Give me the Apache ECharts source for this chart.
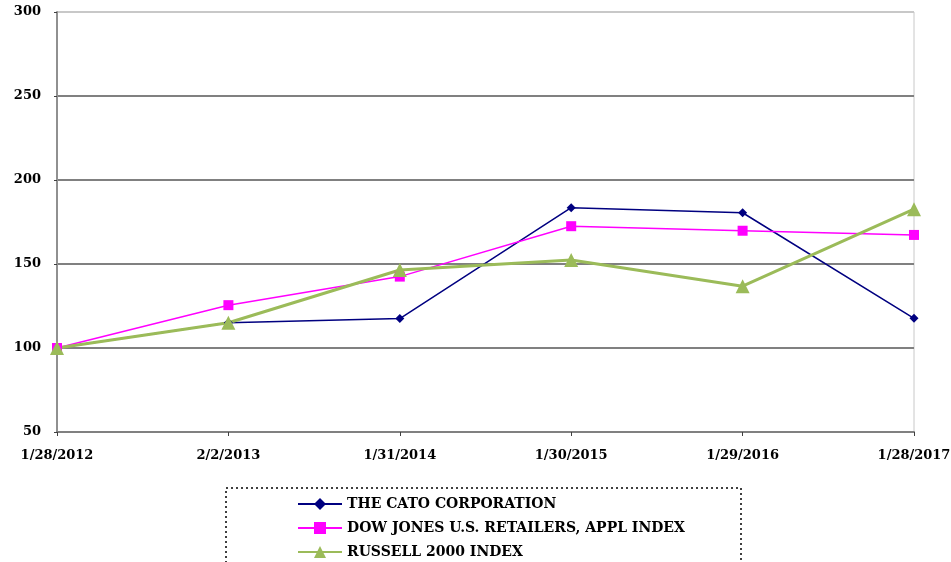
<!DOCTYPE html>
<html><head><meta charset="utf-8">
<script src="https://cdn.jsdelivr.net/npm/echarts@6/dist/echarts.min.js"></script>
<style>html,body{margin:0;padding:0;background:#fff}#c{width:951px;height:562px}</style>
</head><body><div id="c"></div>
<script>
const categories = ["1/28/2012","2/2/2013","1/31/2014","1/30/2015","1/29/2016","1/28/2017"];
const cato = [100, 115, 117.5, 183.5, 180.5, 117.7];
const dowJones = [100, 125.5, 142.5, 172.5, 169.8, 167.3];
const russell = [100, 115, 146.4, 152.4, 136.8, 182.6];
const seriesNames = ["THE CATO CORPORATION","DOW JONES U.S. RETAILERS, APPL INDEX","RUSSELL 2000 INDEX"];

const chart = echarts.init(document.getElementById('c'));
const font = {fontFamily:'DejaVu Serif', fontWeight:'bold', fontSize:13, color:'#000'};
chart.setOption({
  animation:false,
  grid:{left:57, right:37, top:12, bottom:130, show:true, borderColor:'#c8c8c8', borderWidth:1,
    containLabel:false, outerBoundsMode:'none'},
  xAxis:{type:'category', data:categories, boundaryGap:false,
    axisLine:{lineStyle:{color:'#808080', width:2}},
    axisTick:{show:true, length:4, lineStyle:{color:'#404040'}},
    axisLabel:Object.assign({margin:17, interval:0, showMinLabel:true, showMaxLabel:true}, font),
    splitLine:{show:false}},
  yAxis:{type:'value', min:50, max:300, interval:50,
    axisLine:{show:true, lineStyle:{color:'#909090', width:2}},
    axisTick:{show:true, length:3, lineStyle:{color:'#404040'}},
    axisLabel:Object.assign({margin:16}, font),
    splitLine:{show:true, lineStyle:{color:['#808080','#808080','#808080','#808080','#808080','#c8c8c8'], width:2}}},
  legend:{orient:'vertical', left:292, top:494, height:120, padding:[3,5], itemGap:10, itemWidth:44, itemHeight:15,
    textStyle:{fontFamily:'DejaVu Serif', fontWeight:'bold', fontSize:14, color:'#000'},
    data:seriesNames},
  graphic:[{type:'rect', shape:{x:226, y:488, width:515, height:90},
    style:{fill:'none', stroke:'#000', lineWidth:1.5, lineDash:[2,3]}, silent:true}],
  series:[
    {name:seriesNames[0], type:'line', data:cato, symbol:'diamond', symbolSize:9,
     lineStyle:{color:'#000080', width:1.5}, itemStyle:{color:'#000080'}},
    {name:seriesNames[1], type:'line', data:dowJones, symbol:'rect', symbolSize:10,
     lineStyle:{color:'#FF00FF', width:1.5}, itemStyle:{color:'#FF00FF'}},
    {name:seriesNames[2], type:'line', data:russell, symbol:'triangle', symbolSize:14,
     lineStyle:{color:'#9BBB59', width:3}, itemStyle:{color:'#9BBB59'}}
  ]
});
</script></body></html>
